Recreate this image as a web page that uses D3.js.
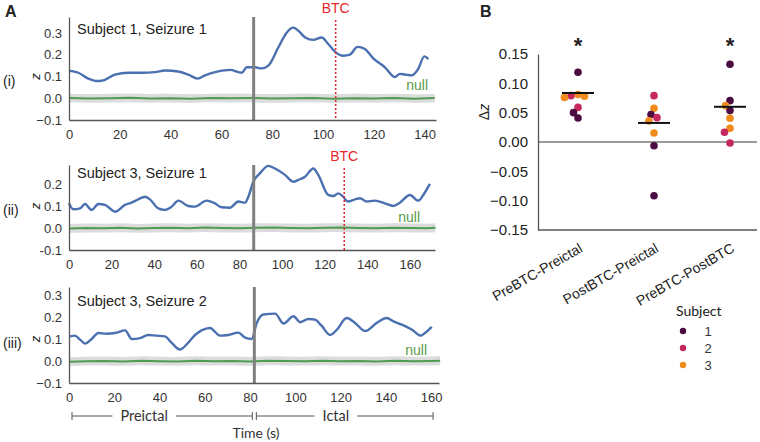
<!DOCTYPE html>
<html>
<head>
<meta charset="utf-8">
<script src="https://d3js.org/d3.v7.min.js"></script>
<title>Seizure z traces</title>
<style>
body { margin: 0; background: #fff; }
svg text { font-family: Arial, "Liberation Sans", sans-serif; fill: #222; }
.soft { font-family: Lato, "Open Sans", sans-serif !important; }
</style>
</head>
<body>
<svg id="canvas" width="760" height="442"></svg>
<script>
// ---- panel A data ----
// (i) Subject 1, Seizure 1
var t1 = [0,3.7,7.6,10.9,12.9,18.1,23.4,28.6,33.9,37.8,43,47,50.7,53.5,58.8,63.4,68,70,73.2,75.8,78.5,82.4,85.7,88.3,90.3,93,96.2,99.5,102,104.7,108,110.6,113.6,116.5,119.8,124.4,128.3,130.3,132.3,134.9,137.5,139.9,141.5];
var z1 = [0.127,0.117,0.090,0.079,0.080,0.108,0.117,0.117,0.120,0.127,0.123,0.108,0.090,0.105,0.123,0.130,0.117,0.142,0.142,0.137,0.150,0.233,0.301,0.324,0.310,0.279,0.268,0.279,0.250,0.214,0.195,0.200,0.236,0.226,0.183,0.142,0.097,0.112,0.109,0.105,0.135,0.192,0.180];
// (ii) Subject 3, Seizure 1
var t2 = [0,2,5.2,7.5,10.6,13.8,16.9,21.6,26.3,29.4,32.5,35.7,38,41.9,45,48.2,51.3,56,59.1,64.6,68.5,71.6,75.5,79.5,82.6,84.2,86.5,89.6,93.5,96.7,101.4,105.3,107.6,110.8,114.7,117,121.7,124.1,126.4,128.7,130.8,134.3,136.6,139.7,143.6,148.3,152.2,155.3,160,164,166.3,169.4];
var z2 = [0.112,0.085,0.089,0.109,0.082,0.109,0.105,0.074,0.105,0.115,0.130,0.142,0.130,0.089,0.082,0.097,0.124,0.100,0.097,0.124,0.112,0.094,0.092,0.120,0.115,0.142,0.210,0.248,0.282,0.270,0.241,0.210,0.218,0.233,0.270,0.241,0.150,0.145,0.157,0.142,0.120,0.130,0.135,0.120,0.124,0.112,0.100,0.115,0.150,0.124,0.150,0.200];
// (iii) Subject 3, Seizure 2
var t3 = [0.4,2.6,4.9,7.1,10,13,16.6,20.3,24.8,27.7,31.4,35,38.7,42.4,45.4,49,52,55.7,58.6,62.3,66.7,70.4,74.8,77.8,80.7,83,85.9,91.1,94.8,99.2,102.2,105.8,108.7,111.7,115.4,118.3,122.7,126.4,130.8,136,140.4,143.4,147.1,151.6,155.5,157.3,160.3];
var z3 = [0.112,0.115,0.097,0.079,0.100,0.127,0.124,0.127,0.139,0.100,0.104,0.118,0.115,0.112,0.082,0.052,0.075,0.118,0.139,0.150,0.115,0.118,0.129,0.106,0.100,0.173,0.211,0.215,0.170,0.203,0.176,0.191,0.188,0.159,0.118,0.141,0.195,0.173,0.136,0.173,0.195,0.180,0.165,0.142,0.115,0.127,0.155];

// null distributions (mean trace, near zero)
var nullT1 = [0,8,16,24,32,40,48,56,64,72,80,88,96,104,112,120,128,136,144];
var nullZ1 = [0.001,-0.001,0.000,0.002,-0.001,0.000,-0.002,0.001,0.000,0.001,-0.001,0.000,0.001,-0.002,0.000,-0.001,0.001,-0.002,0.001];
var nullT2 = [0,8,16,24,32,40,48,56,64,72,80,88,96,104,112,120,128,136,144,152,160,168,172];
var nullZ2 = [-0.002,0.000,-0.001,0.001,-0.002,0.000,0.001,-0.001,0.002,0.000,-0.001,0.001,0.002,0.000,-0.001,0.001,0.002,0.000,-0.001,0.001,0.000,-0.001,0.001];
var nullT3 = [0,8,16,24,32,40,48,56,64,72,80,88,96,104,112,120,128,136,144,152,160,164];
var nullZ3 = [-0.003,-0.001,0.000,-0.002,0.001,-0.001,-0.002,0.001,-0.001,0.000,-0.002,0.001,0.000,-0.001,0.001,-0.001,0.000,-0.002,0.001,-0.001,0.000,0.001];
var nullBand = 0.02;

var titles = ["Subject 1, Seizure 1", "Subject 3, Seizure 1", "Subject 3, Seizure 2"];
var romans = ["(i)", "(ii)", "(iii)"];
var onsets = [72.7, 86.7, 81.9];
var btcTimes = [105, 129.2, null];
var xTicks1 = [0,20,40,60,80,100,120,140];
var xTicks2 = [0,20,40,60,80,100,120,140,160];
var xTicks3 = [0,20,40,60,80,100,120,140,160];
var yTicks1 = [-0.1,0,0.1,0.2,0.3];
var yTicks2 = [-0.1,0,0.1,0.2];
var yTicks3 = [-0.1,0,0.1,0.2,0.3];
var phases = ["Preictal", "Ictal"];

// ---- panel B data ----
var cats = ["PreBTC-Preictal", "PostBTC-Preictal", "PreBTC-PostBTC"];
var dzPreBTCPreictal = [0.119, 0.081, 0.079, 0.078, 0.076, 0.059, 0.050, 0.041];
var subjPreBTCPreictal = [1, 3, 2, 3, 3, 2, 1, 1];
var dzPostBTCPreictal = [0.079, 0.0575, 0.047, 0.0415, 0.036, 0.0154, -0.0063, -0.0916];
var subjPostBTCPreictal = [2, 3, 1, 2, 3, 3, 1, 1];
var dzPreBTCPostBTC = [0.1325, 0.0705, 0.062, 0.0535, 0.0404, 0.0234, 0.0165, -0.0017];
var subjPreBTCPostBTC = [1, 1, 3, 1, 3, 3, 2, 2];
var dzMeans = [0.0835, 0.0325, 0.060];
var stars = ["*", "", "*"];
var yTicksB = [-0.15,-0.10,-0.05,0,0.05,0.10,0.15];
var subjects = [1, 2, 3];
var subjColors = ["#4b0d41", "#c4285d", "#f08c1e"];

var svg = d3.select("#canvas");

svg.append("text").attr("x", 5).attr("y", 17).style("font-weight", "bold").style("font-size", "16px").text("A");
svg.append("text").attr("x", 480).attr("y", 17).style("font-weight", "bold").style("font-size", "16px").text("B");

var minusFmt = function(d) { return d3.format(".1f")(d).replace("-", "\u2212"); };
var hyphenFmt = function(d) { return d3.format(".1f")(d).replace("\u2212", "-"); };

var panels = [
  {t: t1, z: z1, nt: nullT1, nz: nullZ1, top: 17, bottom: 120, yMax: 0.373, xMax: 144.5, xEnd: 436, xt: xTicks1, yt: yTicks1, fmt: minusFmt, nullX: 428, nullY: 90, titleY: 34, btcY: 13},
  {t: t2, z: z2, nt: nullT2, nz: nullZ2, top: 165, bottom: 250, yMax: 0.286, xMax: 171.8, xEnd: 435, xt: xTicks2, yt: yTicks2, fmt: hyphenFmt, nullX: 420, nullY: 222, titleY: 178, btcY: 161},
  {t: t3, z: z3, nt: nullT3, nz: nullZ3, top: 287, bottom: 383, yMax: 0.336, xMax: 163.5, xEnd: 439, xt: xTicks3, yt: yTicks3, fmt: minusFmt, nullX: 427, nullY: 355, titleY: 306, btcY: 0}
];
var left = 69;
var xScales = [];

panels.forEach(function(p, i) {
  var x = d3.scaleLinear().domain([0, p.xMax]).range([left, p.xEnd]);
  xScales.push(x);
  var y = d3.scaleLinear().domain([-0.1, p.yMax]).range([p.bottom, p.top]);
  var g = svg.append("g");

  // null band + mean null trace
  var nullPts = p.nt.map(function(d, k) { return {t: d, z: p.nz[k]}; });
  g.append("path").datum(nullPts)
    .attr("d", d3.area().curve(d3.curveMonotoneX).x(function(d) { return x(d.t); }).y0(function(d) { return y(d.z - nullBand); }).y1(function(d) { return y(d.z + nullBand); }))
    .attr("fill", "#dcdcdc");
  g.append("path").datum(nullPts)
    .attr("d", d3.line().x(function(d) { return x(d.t); }).y(function(d) { return y(d.z); }))
    .attr("fill", "none").attr("stroke", "#4f9c52").attr("stroke-width", 2);

  // observed trace
  var pts = p.t.map(function(d, k) { return {t: d, z: p.z[k]}; });
  g.append("path").datum(pts)
    .attr("d", d3.line().curve(d3.curveMonotoneX).x(function(d) { return x(d.t); }).y(function(d) { return y(d.z); }))
    .attr("fill", "none").attr("stroke", "#4a70b0").attr("stroke-width", 2.4).attr("stroke-linejoin", "round");

  // seizure onset
  g.append("line").attr("x1", x(onsets[i])).attr("x2", x(onsets[i]))
    .attr("y1", p.top).attr("y2", p.bottom).attr("stroke", "#808080").attr("stroke-width", 3);

  // BTC
  if (btcTimes[i] != null) {
    g.append("line").attr("x1", x(btcTimes[i])).attr("x2", x(btcTimes[i]))
      .attr("y1", p.btcY + 7).attr("y2", p.bottom)
      .attr("stroke", "#e8262b").attr("stroke-width", 1.5).attr("stroke-dasharray", "2,2");
    g.append("text").attr("x", x(btcTimes[i])).attr("y", p.btcY).attr("text-anchor", "middle")
      .style("font-size", "14px").style("fill", "#e8262b").text("BTC");
  }

  // axes
  var xa = g.append("g").attr("transform", "translate(0," + p.bottom + ")")
    .call(d3.axisBottom(x).tickValues(p.xt).tickSize(0).tickPadding(10).tickFormat(d3.format("d")));
  var ya = g.append("g").attr("transform", "translate(" + left + ",0)")
    .call(d3.axisLeft(y).tickValues(p.yt).tickSize(0).tickPadding(7).tickFormat(p.fmt));
  [xa, ya].forEach(function(a) {
    a.select(".domain").attr("stroke", "#555").attr("stroke-width", 1.3);
    a.selectAll("text").style("font-size", "13px").style("fill", "#333").style("font-family", "Arial, 'Liberation Sans', sans-serif");
  });

  g.append("text").attr("x", 77).attr("y", p.titleY).style("font-size", "14.5px").text(titles[i]);
  g.append("text").attr("x", p.nullX).attr("y", p.nullY).attr("text-anchor", "end")
    .style("font-size", "14px").style("fill", "#5a9a4a").text("null");

  var mid = y(0.08);
  g.append("text").attr("x", 3).attr("y", mid + 5).style("font-size", "14px").text(romans[i]);
  g.append("text").attr("transform", "translate(" + 40 + "," + y(0.1) + ") rotate(-90)")
    .attr("text-anchor", "middle").style("font-size", "13px").style("font-style", "italic").text("z");
});

// phase bracket under panel (iii)
var x3 = xScales[2];
var by = 416;
var segs = [[0, onsets[2]], [onsets[2], 160]];
var labelPos = [0.4, 0.45];
segs.forEach(function(s, k) {
  var a = x3(s[0]) + (k == 0 ? 3 : 2), b = x3(s[1]) - (k == 0 ? 2 : -2);
  var c = a + (b - a) * labelPos[k];
  var lab = svg.append("text").attr("class", "soft").attr("x", c).attr("y", by + 5)
    .attr("text-anchor", "middle").style("font-size", "14.5px").style("fill", "#333").text(phases[k]);
  var w = lab.node().getComputedTextLength() / 2 + 8;
  [[a, c - w], [c + w, b]].forEach(function(seg) {
    svg.append("line").attr("x1", seg[0]).attr("x2", seg[1]).attr("y1", by).attr("y2", by).attr("stroke", "#555").attr("stroke-width", 1);
  });
  [a, b].forEach(function(e) {
    svg.append("line").attr("x1", e).attr("x2", e).attr("y1", by - 4).attr("y2", by + 4).attr("stroke", "#555").attr("stroke-width", 1);
  });
});
svg.append("text").attr("class", "soft").attr("x", 256).attr("y", 438).attr("text-anchor", "middle")
  .style("font-size", "14px").style("fill", "#333").text("Time (s)");

// ---- panel B ----
var bLeft = 538, bRight = 757, bTop = 54, bBottom = 230;
var yB = d3.scaleLinear().domain([-0.15, 0.15]).range([bBottom, bTop]);
var xB = d3.scalePoint().domain(cats).range([578, 730]);
var gB = svg.append("g");

gB.append("line").attr("x1", bLeft).attr("x2", bRight).attr("y1", yB(0)).attr("y2", yB(0))
  .attr("stroke", "#9a9a9a").attr("stroke-width", 2);

var yaB = gB.append("g").attr("transform", "translate(" + bLeft + ",0)")
  .call(d3.axisLeft(yB).tickValues(yTicksB).tickSize(0).tickPadding(10)
    .tickFormat(function(d) { return d3.format(".2f")(d).replace("-", "\u2212"); }));
var xaB = gB.append("g").attr("transform", "translate(0," + bBottom + ")")
  .call(d3.axisBottom(xB).tickSize(0).tickPadding(0));
xaB.select(".domain").attr("d", "M" + bLeft + ",0H" + bRight);
[yaB, xaB].forEach(function(a) {
  a.select(".domain").attr("stroke", "#555").attr("stroke-width", 1.3);
  a.selectAll("text").style("font-size", "14px").style("fill", "#222").style("font-family", "Arial, 'Liberation Sans', sans-serif");
});
yaB.selectAll("text").style("font-size", "15px");
xaB.selectAll(".tick text")
  .attr("text-anchor", "end").attr("dy", null).attr("y", null)
  .attr("transform", "translate(5,21) rotate(-30)");

gB.append("text").attr("transform", "translate(489,112) rotate(-90)").attr("text-anchor", "middle")
  .style("font-size", "14px").html("\u0394<tspan font-style='italic'>z</tspan>");

var groups = [
  {v: dzPreBTCPreictal, s: subjPreBTCPreictal},
  {v: dzPostBTCPreictal, s: subjPostBTCPreictal},
  {v: dzPreBTCPostBTC, s: subjPreBTCPostBTC}
];
var r = 3.8;
groups.forEach(function(gr, i) {
  var cx = xB(cats[i]);
  var placed = [];
  gr.v.forEach(function(v, k) {
    var cy = yB(v), off = 0;
    for (var n = 0; n < 400; n++) {
      var cand = (n % 2 ? -1 : 1) * Math.ceil(n / 2) * 0.5;
      var ok = placed.every(function(q) { return Math.hypot(q.x - cand, q.y - cy) >= 2 * r * 0.88; });
      if (ok) { off = cand; break; }
    }
    placed.push({x: off, y: cy});
    gB.append("circle").attr("cx", cx + off).attr("cy", cy).attr("r", r)
      .attr("fill", subjColors[gr.s[k] - 1]);
  });
  gB.append("line").attr("x1", cx - 16).attr("x2", cx + 16).attr("y1", yB(dzMeans[i])).attr("y2", yB(dzMeans[i]))
    .attr("stroke", "#111").attr("stroke-width", 2);
  gB.append("text").attr("x", cx).attr("y", 53).attr("text-anchor", "middle")
    .style("font-size", "22px").style("font-weight", "bold").text(stars[i]);
});

// legend
svg.append("text").attr("class", "soft").attr("x", 676).attr("y", 316).style("font-size", "14px").style("fill", "#222").text("Subject");
subjects.forEach(function(s, k) {
  var ly = 331 + k * 17;
  svg.append("circle").attr("cx", 683).attr("cy", ly).attr("r", 3.2).attr("fill", subjColors[k]);
  svg.append("text").attr("x", 708).attr("y", ly + 5).attr("text-anchor", "middle").style("font-size", "13px").style("fill", "#333").text(s);
});
</script>
</body>
</html>
